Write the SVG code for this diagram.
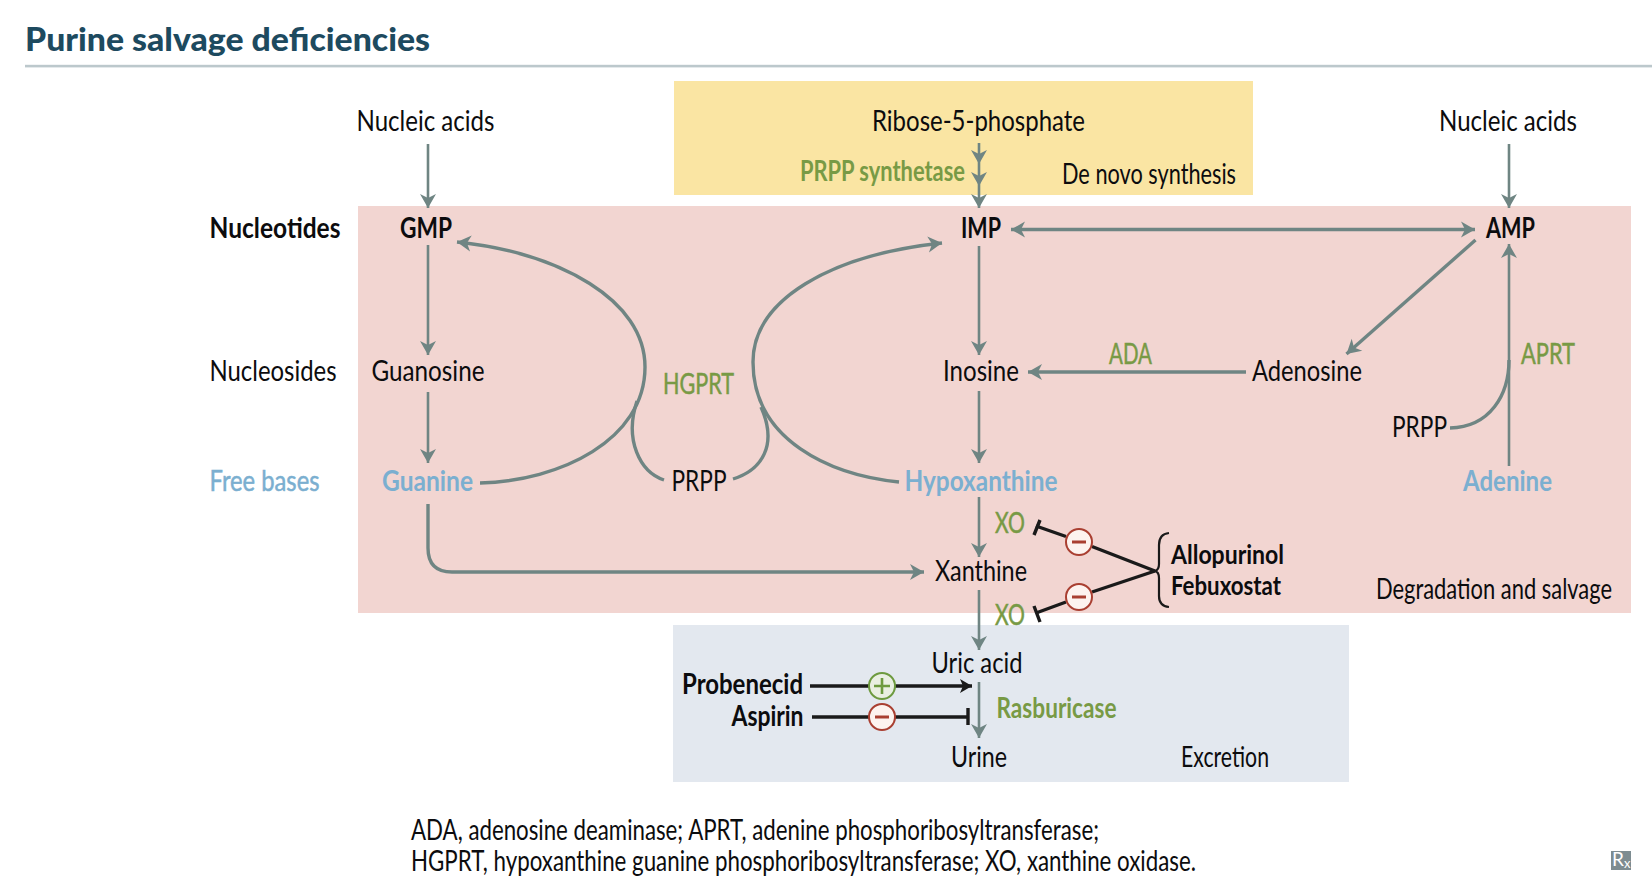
<svg xmlns="http://www.w3.org/2000/svg" width="1652" height="888" viewBox="0 0 1652 888">
<style>
text{font-family:"Lato","Noto Sans","Liberation Sans",sans-serif;font-size:28px;fill:#0c0c0e}
.b{font-weight:700}
.g{fill:#789a45;stroke:#789a45;stroke-width:.5}
.gb{fill:#789a45;font-weight:700}
.bl{fill:#7bafd0;font-weight:700}
.blr{fill:#7bafd0;stroke:#7bafd0;stroke-width:.5}
.c{fill:none;stroke:#6f8583;stroke-width:2.6}
.t{stroke-width:3.4}
.k{fill:none;stroke:#1a1a1a;stroke-width:3.4}
.neg{fill:#fdf3ef;stroke:#a93f31;stroke-width:2}
.pos{fill:#e9efe2;stroke:#6d9a3f;stroke-width:2}
.mr{stroke:#a93f31;stroke-width:3;fill:none}
.mg{stroke:#6d9a3f;stroke-width:2.6;fill:none}
</style>
<defs>
<marker id="a" markerUnits="userSpaceOnUse" markerWidth="18" markerHeight="18" refX="14" refY="8" orient="auto" overflow="visible"><path d="M0 0L14 8L0 16L4 8Z" fill="#6f8583"/></marker>
<marker id="as" markerUnits="userSpaceOnUse" markerWidth="18" markerHeight="18" refX="14" refY="8" orient="auto-start-reverse" overflow="visible"><path d="M0 0L14 8L0 16L4 8Z" fill="#6f8583"/></marker>
<marker id="ak" markerUnits="userSpaceOnUse" markerWidth="18" markerHeight="18" refX="12" refY="7" orient="auto" overflow="visible"><path d="M0 0L12 7L0 14L3 7Z" fill="#1a1a1a"/></marker>
</defs>
<rect width="1652" height="888" fill="#fff"/>
<g id="title">
<text x="25" y="51" style="font-size:33px;font-weight:900;fill:#1d4a5f" textLength="405" lengthAdjust="spacingAndGlyphs">Purine salvage deficiencies</text>
<rect x="25" y="64.800" width="1627" height="2.6" fill="#bcc8cc"/>
</g>
<g id="regions">
<rect id="denovo" x="674" y="81" width="579" height="114" fill="#fae5a3"/>
<rect id="salvage" x="358" y="206" width="1273" height="407" fill="#f2d5d1"/>
<rect id="excretion" x="673" y="625" width="676" height="157" fill="#e3e8ef"/>
</g>
<g id="connectors">
<path class="c" marker-end="url(#a)" d="M428 144V208"/>
<path class="c" marker-end="url(#a)" d="M428 245V355"/>
<path class="c" marker-end="url(#a)" d="M428 392V463"/>
<path class="c t" marker-end="url(#a)" d="M428 504V548Q428 572 452 572H924"/>
<path class="c t" marker-end="url(#a)" d="M480 483C560 481 645 440 645 367C645 300 560 253 457 242"/>
<path class="c t" d="M664 480C640 472 624 440 637 401"/>
<path class="c t" d="M733 479C762 470 778 445 761 407"/>
<path class="c t" marker-end="url(#a)" d="M899 482C830 475 753 440 753 362C753 300 830 255 942 243"/>
<path class="c" marker-end="url(#a)" d="M979 143V164"/>
<path class="c" marker-end="url(#a)" d="M979 164V186"/>
<path class="c" marker-end="url(#a)" d="M979 186V208"/>
<path class="c t" marker-start="url(#as)" marker-end="url(#as)" d="M1011 229.5H1475"/>
<path class="c" marker-end="url(#a)" d="M979 246V355"/>
<path class="c" marker-end="url(#a)" d="M979 391V463"/>
<path class="c" marker-end="url(#a)" d="M979 497V557"/>
<path class="c" marker-end="url(#a)" d="M979 590V650"/>
<path class="c" marker-end="url(#a)" d="M979 682V738"/>
<path class="c t" marker-end="url(#a)" d="M1246 372H1028"/>
<path class="c t" marker-end="url(#a)" d="M1475.5 240L1346.5 354"/>
<path class="c" marker-end="url(#a)" d="M1509 144V208"/>
<path class="c" marker-end="url(#a)" d="M1509 466V244"/>
<path class="c t" d="M1450 428C1490 427 1509 395 1509 360"/>
<path class="k" d="M1155 571L1092 546.500M1066 536.500L1036 526"/>
<path class="k" d="M1155 571L1092 592M1066 602L1036 613"/>
<path class="k" d="M1040 520L1034 535M1034 606L1040 622"/>
<path d="M1169 533Q1159 534 1159 545V564Q1159 570 1155 571Q1159 572 1159 578V596Q1159 606 1169 607" fill="none" stroke="#1a1a1a" stroke-width="2.2"/>
<path class="k" marker-end="url(#ak)" d="M810 686H972"/>
<path class="k" d="M812 717H968M968 708V725"/>
</g>
<g id="inhibit-xo-1"><circle class="neg" cx="1079" cy="542" r="13"/><path class="mr" d="M1072 542H1086"/></g>
<g id="inhibit-xo-2"><circle class="neg" cx="1079" cy="597" r="13"/><path class="mr" d="M1072 597H1086"/></g>
<g id="stim-probenecid"><circle class="pos" cx="882" cy="686" r="13"/><path class="mg" d="M874 686H890M882 678V694"/></g>
<g id="inhibit-aspirin"><circle class="neg" cx="882" cy="717" r="13"/><path class="mr" d="M875 717H889"/></g>
<g id="n-nucleic-acids-1"><text x="356.500" y="131" textLength="138" lengthAdjust="spacingAndGlyphs">Nucleic acids</text></g>
<g id="n-nucleic-acids-2"><text x="1439" y="131" textLength="138" lengthAdjust="spacingAndGlyphs">Nucleic acids</text></g>
<g id="n-ribose"><text x="872" y="131" textLength="213" lengthAdjust="spacingAndGlyphs">Ribose-5-phosphate</text></g>
<g id="e-prpp-synthetase"><text x="800" y="181" class="gb" textLength="165" lengthAdjust="spacingAndGlyphs">PRPP synthetase</text></g>
<g id="l-denovo"><text x="1062" y="184" textLength="174" lengthAdjust="spacingAndGlyphs">De novo synthesis</text></g>
<g id="l-nucleotides"><text x="209.500" y="238" class="b" textLength="131" lengthAdjust="spacingAndGlyphs">Nucleotides</text></g>
<g id="n-gmp"><text x="400" y="238" class="b" textLength="52" lengthAdjust="spacingAndGlyphs">GMP</text></g>
<g id="n-imp"><text x="961" y="238" class="b" textLength="40" lengthAdjust="spacingAndGlyphs">IMP</text></g>
<g id="n-amp"><text x="1486" y="238" class="b" textLength="49" lengthAdjust="spacingAndGlyphs">AMP</text></g>
<g id="l-nucleosides"><text x="209.500" y="381" textLength="127" lengthAdjust="spacingAndGlyphs">Nucleosides</text></g>
<g id="n-guanosine"><text x="371.500" y="381" textLength="113" lengthAdjust="spacingAndGlyphs">Guanosine</text></g>
<g id="e-hgprt"><text x="663" y="394" class="g" textLength="71" lengthAdjust="spacingAndGlyphs">HGPRT</text></g>
<g id="n-inosine"><text x="943" y="381" textLength="76" lengthAdjust="spacingAndGlyphs">Inosine</text></g>
<g id="e-ada"><text x="1109" y="364" class="g" textLength="43" lengthAdjust="spacingAndGlyphs">ADA</text></g>
<g id="n-adenosine"><text x="1252" y="381" textLength="110" lengthAdjust="spacingAndGlyphs">Adenosine</text></g>
<g id="e-aprt"><text x="1521" y="364" class="g" textLength="54" lengthAdjust="spacingAndGlyphs">APRT</text></g>
<g id="n-prpp-2"><text x="1392" y="437" textLength="55" lengthAdjust="spacingAndGlyphs">PRPP</text></g>
<g id="l-free-bases"><text x="209.500" y="491" class="blr" textLength="110" lengthAdjust="spacingAndGlyphs">Free bases</text></g>
<g id="n-guanine"><text x="382" y="491" class="bl" textLength="91" lengthAdjust="spacingAndGlyphs">Guanine</text></g>
<g id="n-prpp-1"><text x="671.500" y="491" textLength="55" lengthAdjust="spacingAndGlyphs">PRPP</text></g>
<g id="n-hypoxanthine"><text x="904.500" y="491" class="bl" textLength="153" lengthAdjust="spacingAndGlyphs">Hypoxanthine</text></g>
<g id="n-adenine"><text x="1463" y="491" class="bl" textLength="89" lengthAdjust="spacingAndGlyphs">Adenine</text></g>
<g id="e-xo-1"><text x="995" y="533" class="g" textLength="30" lengthAdjust="spacingAndGlyphs">XO</text></g>
<g id="n-xanthine"><text x="935" y="581" textLength="92" lengthAdjust="spacingAndGlyphs">Xanthine</text></g>
<g id="e-xo-2"><text x="995" y="625" class="g" textLength="30" lengthAdjust="spacingAndGlyphs">XO</text></g>
<g id="n-allopurinol"><text x="1171" y="564" class="b" style="font-size:27px" textLength="113" lengthAdjust="spacingAndGlyphs">Allopurinol</text></g>
<g id="n-febuxostat"><text x="1171" y="595" class="b" style="font-size:27px" textLength="110" lengthAdjust="spacingAndGlyphs">Febuxostat</text></g>
<g id="l-degradation"><text x="1376" y="599" textLength="236" lengthAdjust="spacingAndGlyphs">Degradation and salvage</text></g>
<g id="n-uric-acid"><text x="931.500" y="673" textLength="91" lengthAdjust="spacingAndGlyphs">Uric acid</text></g>
<g id="n-probenecid"><text x="682" y="694" class="b" textLength="121" lengthAdjust="spacingAndGlyphs">Probenecid</text></g>
<g id="n-aspirin"><text x="731.500" y="726" class="b" textLength="72" lengthAdjust="spacingAndGlyphs">Aspirin</text></g>
<g id="e-rasburicase"><text x="996.500" y="718" class="gb" textLength="120" lengthAdjust="spacingAndGlyphs">Rasburicase</text></g>
<g id="n-urine"><text x="951" y="767" textLength="56" lengthAdjust="spacingAndGlyphs">Urine</text></g>
<g id="l-excretion"><text x="1181" y="767" textLength="88" lengthAdjust="spacingAndGlyphs">Excretion</text></g>
<g id="footnote">
<text x="411" y="840" textLength="688" lengthAdjust="spacingAndGlyphs">ADA, adenosine deaminase; APRT, adenine phosphoribosyltransferase;</text>
<text x="411" y="871" textLength="785" lengthAdjust="spacingAndGlyphs">HGPRT, hypoxanthine guanine phosphoribosyltransferase; XO, xanthine oxidase.</text>
</g>
<g id="rx-badge">
<rect x="1611" y="851" width="20" height="19" fill="#7d8c91"/>
<text x="1612" y="866" style="font-size:19px;fill:#fff">R<tspan dy="2" style="font-size:13px;fill:#fff">x</tspan></text>
</g>
</svg>
